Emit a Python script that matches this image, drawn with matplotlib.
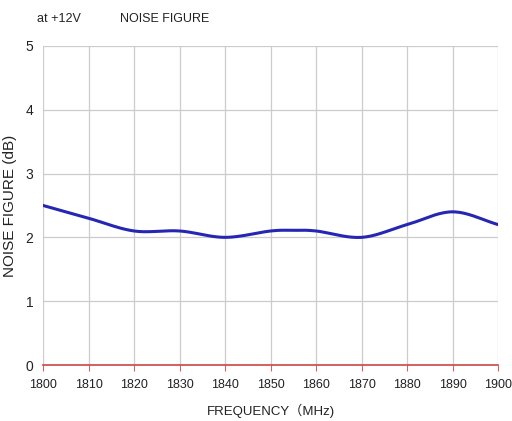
import numpy as np
import matplotlib
matplotlib.use("Agg")
import matplotlib.pyplot as plt

freq = [1800, 1810, 1820, 1830, 1840, 1850, 1855, 1860, 1870, 1880, 1890, 1900]
nf = [2.5, 2.3, 2.1, 2.1, 2.0, 2.1, 2.11, 2.1, 2.0, 2.2, 2.4, 2.2]
xticks = list(range(1800, 1901, 10))
yticks = [0, 1, 2, 3, 4, 5]

plt.rcParams['font.family'] = ['Liberation Sans', 'Noto Sans CJK SC', 'DejaVu Sans']


def smooth(x, y, n=20):
    # Catmull-Rom rendering of the read points
    x = np.asarray(x, float); y = np.asarray(y, float)
    px = np.concatenate([[2 * x[0] - x[1]], x, [2 * x[-1] - x[-2]]])
    py = np.concatenate([[2 * y[0] - y[1]], y, [2 * y[-1] - y[-2]]])
    ox, oy = [], []
    t = np.linspace(0, 1, n, endpoint=False)
    for i in range(1, len(px) - 2):
        for p, o in ((px, ox), (py, oy)):
            p0, p1, p2, p3 = p[i - 1], p[i], p[i + 1], p[i + 2]
            o.extend(0.5 * ((2 * p1) + (-p0 + p2) * t + (2 * p0 - 5 * p1 + 4 * p2 - p3) * t ** 2
                            + (-p0 + 3 * p1 - 3 * p2 + p3) * t ** 3))
    ox.append(x[-1]); oy.append(y[-1])
    return np.array(ox), np.array(oy)


fig = plt.figure(figsize=(5.12, 4.21), dpi=100)
ax = fig.add_axes([0.084, 0.133, 0.889, 0.758])
ax.set_xlim(1800, 1900)
ax.set_ylim(0, 5)
for s in ax.spines.values():
    s.set_visible(False)
for xv in xticks:
    ax.axvline(xv, color='#cccccc', lw=0.9, zorder=1)
for yv in yticks[1:]:
    ax.axhline(yv, color='#cccccc', lw=0.9, zorder=1)
ax.axhline(0, color='#cc4444', lw=1.2, zorder=2, clip_on=False)

sx, sy = smooth(freq, nf)
ax.plot(sx, sy, color='#2626b4', lw=2.2, zorder=3)

ax.set_xticks(xticks)
ax.set_yticks(yticks)
ax.tick_params(axis='x', colors='#cc6666', length=4, width=0.8, labelcolor='#222222', labelsize=9, pad=6)
ax.tick_params(axis='y', length=0, labelcolor='#222222', labelsize=10, pad=7)
ax.set_xlabel('FREQUENCY（MHz)', fontsize=9.5, color='#222222', labelpad=9)
ax.set_ylabel('NOISE FIGURE (dB)', fontsize=11, color='#222222')
ax.yaxis.set_label_coords(-0.058, 0.5)
fig.text(0.072, 0.948, 'at +12V', fontsize=9, color='#222222')
fig.text(0.234, 0.948, 'NOISE FIGURE', fontsize=9, color='#222222')
fig.savefig('out.png', dpi=100, facecolor='white')
